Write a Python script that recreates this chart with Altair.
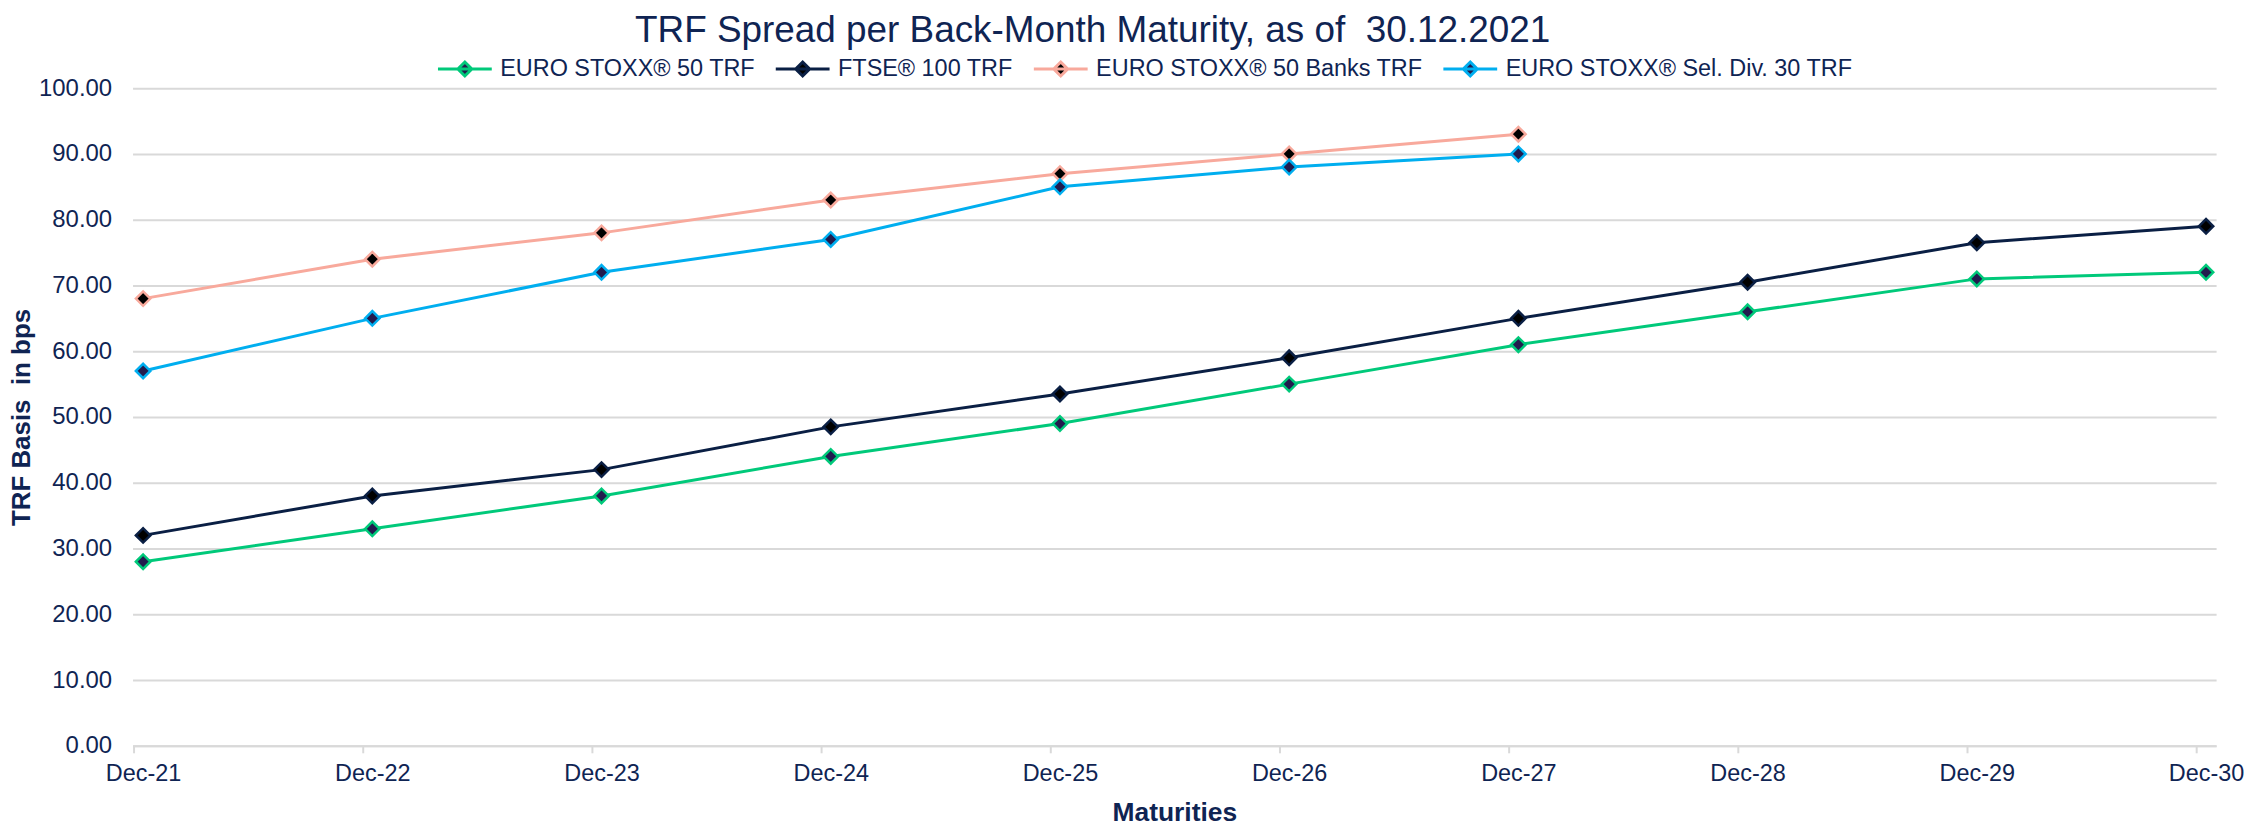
import altair as alt
import pandas as pd

maturities = ["Dec-21", "Dec-22", "Dec-23", "Dec-24", "Dec-25", "Dec-26", "Dec-27", "Dec-28", "Dec-29", "Dec-30"]
series_names = ["EURO STOXX® 50 TRF", "FTSE® 100 TRF", "EURO STOXX® 50 Banks TRF", "EURO STOXX® Sel. Div. 30 TRF"]
sx50 = [28, 33, 38, 44, 49, 55, 61, 66, 71, 72]
ftse100 = [32, 38, 42, 48.5, 53.5, 59, 65, 70.5, 76.5, 79]
sx50_banks = [68, 74, 78, 83, 87, 90, 93, None, None, None]
sel_div30 = [57, 65, 72, 77, 85, 88, 90, None, None, None]

line_colors = ["#00c97a", "#0a1f44", "#f8a99c", "#00aeef"]
marker_fills = ["#221c4e", "#000000", "#000000", "#221c4e"]

rows = []
for name, vals in zip(series_names, [sx50, ftse100, sx50_banks, sel_div30]):
    for i, (m, v) in enumerate(zip(maturities, vals)):
        if v is not None:
            rows.append({"series": name, "idx": i, "maturity": m, "value": v})
df = pd.DataFrame(rows)

TXT = "#0f2453"
FONT = "Liberation Sans"

label_expr = "[" + ",".join("'%s'" % m for m in maturities) + "][datum.value]"

x_enc = alt.X(
    "idx:Q",
    scale=alt.Scale(domain=[-0.046, 9.044], nice=False, zero=False),
    axis=alt.Axis(
        values=list(range(len(maturities))),
        labelExpr=label_expr,
        title="Maturities",
        grid=False,
        tickOffset=-10,
        labelOffset=10,
        tickSize=7,
        tickWidth=2,
        tickColor="#d9d9d9",
        domainColor="#d9d9d9",
        domainWidth=2,
        labelPadding=9,
        labelFontSize=23.5,
        labelColor=TXT,
        labelFont=FONT,
        titleFont=FONT,
        titleFontSize=26.5,
        titleFontWeight="bold",
        titleColor=TXT,
        titlePadding=14,
    ),
)
y_enc = alt.Y(
    "value:Q",
    scale=alt.Scale(domain=[0, 100], nice=False),
    axis=alt.Axis(
        values=list(range(0, 101, 10)),
        format=".2f",
        title="TRF Basis \u00a0in bps",
        domain=False,
        ticks=False,
        tickSize=0,
        gridColor="#d9d9d9",
        gridWidth=2,
        labelPadding=21,
        labelFontSize=24,
        labelColor=TXT,
        labelFont=FONT,
        titleFont=FONT,
        titleFontSize=26,
        titleFontWeight="bold",
        titleColor=TXT,
        titlePadding=4,
    ),
)

color_scale = alt.Scale(domain=series_names, range=line_colors)
fill_scale = alt.Scale(domain=series_names, range=marker_fills)

lines = alt.Chart(df).mark_line(strokeWidth=3).encode(
    x=x_enc,
    y=y_enc,
    stroke=alt.Stroke(
        "series:N",
        scale=color_scale,
        sort=series_names,
        legend=alt.Legend(
            title=None,
            orient="none",
            legendX=305,
            legendY=-48,
            direction="horizontal",
            symbolType="M-1,0L1,0M0,-0.26L0.26,0L0,0.26L-0.26,0Z",
            symbolSize=2916,
            symbolStrokeWidth=3,
            symbolFillColor="#221c4e",
            labelFontSize=23.5,
            labelColor=TXT,
            labelFont=FONT,
            labelOffset=7,
            labelLimit=600,
            columnPadding=14,
        ),
    ),
    detail="series:N",
)

points = alt.Chart(df).mark_point(shape="diamond", size=210, strokeWidth=2.5, filled=False, opacity=1).encode(
    x="idx:Q",
    y="value:Q",
    stroke=alt.Stroke("series:N", scale=color_scale, legend=None),
    fill=alt.Fill("series:N", scale=fill_scale, legend=None),
)

chart = (
    alt.layer(lines, points)
    .properties(
        width=2091,
        height=660,
        autosize=alt.AutoSizeParams(type="none"),
        padding={"left": 125, "top": 79, "right": 30, "bottom": 79},
        title=alt.TitleParams(
            text="TRF Spread per Back-Month Maturity, as of \u00a030.12.2021",
            font=FONT,
            fontSize=37,
            fontWeight="normal",
            color=TXT,
            anchor="middle",
            dx=-82,
            offset=20,
            dy=30,
        ),
    )
    .configure_view(stroke=None)
)

chart.save("out.html", embed_options={"renderer": "svg", "actions": False})
